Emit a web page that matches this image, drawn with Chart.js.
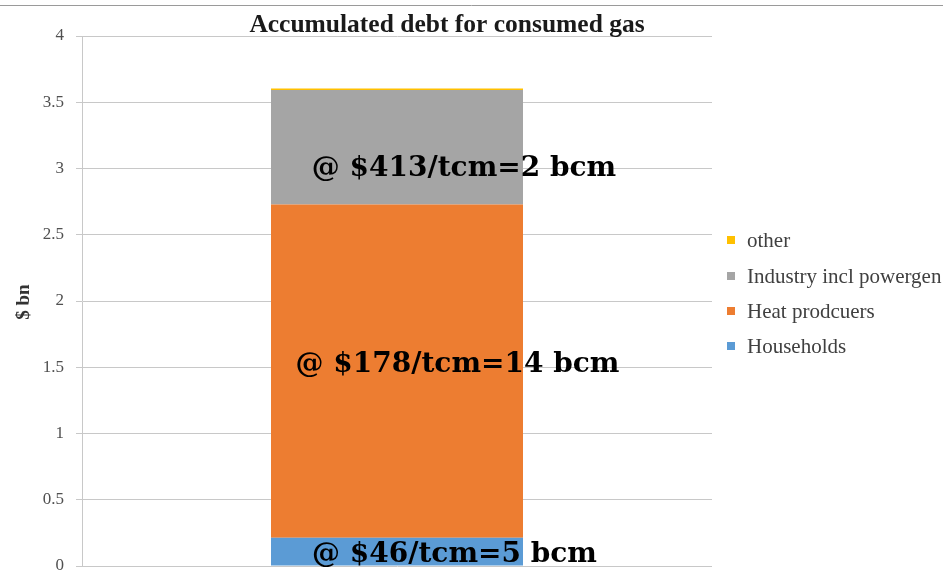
<!DOCTYPE html>
<html>
<head>
<meta charset="utf-8">
<script src="https://cdn.jsdelivr.net/npm/chart.js@4"></script>
<style>
html,body{margin:0;padding:0;background:#fff;}
#wrap{width:943px;height:578px;position:relative;}
</style>
</head>
<body>
<div id="wrap"><canvas id="c" width="943" height="578"></canvas></div>
<script>
const chartTitle = "Accumulated debt for consumed gas";
const yAxisTitle = "$ bn";
const categories = [""];
const seriesNames = ["Households", "Heat prodcuers", "Industry incl powergen", "other"];
const households = [0.214];
const heatProducers = [2.515];
const industry = [0.864];
const other = [0.01];
const seriesColors = ["#5B9BD5", "#ED7D31", "#A5A5A5", "#FFC000"];
const barLabels = ["@ $46/tcm=5 bcm", "@ $178/tcm=14 bcm", "@ $413/tcm=2 bcm", ""];
const yTicks = [0, 0.5, 1, 1.5, 2, 2.5, 3, 3.5, 4];

const seriesValues = [households, heatProducers, industry, other];

const serif = "'Liberation Serif', 'DejaVu Serif', serif";
const wideSerif = "'DejaVu Serif', 'Liberation Serif', serif";

const decor = {
  id: 'decor',
  beforeDraw(chart) {
    const ctx = chart.ctx;
    ctx.save();
    ctx.strokeStyle = '#9a9a9a';
    ctx.lineWidth = 1;
    ctx.beginPath();
    ctx.moveTo(0, 5.5);
    ctx.lineTo(chart.width, 5.5);
    ctx.stroke();
    ctx.restore();
  },
  afterDraw(chart) {
    const ctx = chart.ctx;
    ctx.save();
    // title
    ctx.fillStyle = '#1a1a1a';
    ctx.font = "bold 25.5px " + serif;
    ctx.textAlign = 'center';
    ctx.textBaseline = 'alphabetic';
    ctx.fillText(chartTitle, 447, 32);
    // y axis title
    ctx.save();
    ctx.translate(29, 302);
    ctx.rotate(-Math.PI / 2);
    ctx.font = "bold 19px " + serif;
    ctx.fillStyle = '#333';
    ctx.fillText(yAxisTitle, 0, 0);
    ctx.restore();
    // bar labels
    ctx.font = "bold 28px " + wideSerif;
    ctx.fillStyle = '#000';
    const offsets = [[455, 562], [458, 372], [464.5, 176]];
    chart.data.datasets.forEach((ds, i) => {
      if (!barLabels[i]) return;
      const el = chart.getDatasetMeta(i).data[0];
      const o = offsets[i];
      ctx.fillText(barLabels[i], el.x + (o[0] - 397.5), o[1]);
    });
    // legend
    ctx.font = "21px " + serif;
    ctx.textAlign = 'left';
    const ys = [247, 283, 318, 353];
    for (let k = 0; k < 4; k++) {
      const idx = 3 - k;
      ctx.fillStyle = seriesColors[idx];
      ctx.fillRect(727, ys[k] - 11, 8, 8);
      ctx.fillStyle = '#404040';
      ctx.fillText(seriesNames[idx], 747, ys[k]);
    }
    ctx.restore();
  }
};

new Chart(document.getElementById('c'), {
  type: 'bar',
  data: {
    labels: categories,
    datasets: seriesNames.map((n, i) => ({
      label: n,
      data: seriesValues[i],
      backgroundColor: seriesColors[i],
      borderWidth: 0,
      categoryPercentage: 1,
      barPercentage: 0.4
    }))
  },
  options: {
    responsive: false,
    animation: false,
    layout: { padding: { top: 36, bottom: 12, left: 0, right: 231 } },
    plugins: { legend: { display: false }, title: { display: false }, tooltip: { enabled: false } },
    scales: {
      x: { stacked: true, display: false },
      y: {
        stacked: true,
        min: 0, max: 4,
        afterBuildTicks(s) { s.ticks = yTicks.map(v => ({ value: v })); },
        afterFit(s) { s.width = 82; s.paddingTop = 0; s.paddingBottom = 0; },
        ticks: {
          font: { family: serif, size: 17 },
          color: '#505050',
          padding: 12,
          callback: v => String(v)
        },
        grid: { color: '#c8c8c8', tickLength: 6, drawTicks: true },
        border: { color: '#c8c8c8' }
      }
    }
  },
  plugins: [decor]
});
</script>
</body>
</html>
